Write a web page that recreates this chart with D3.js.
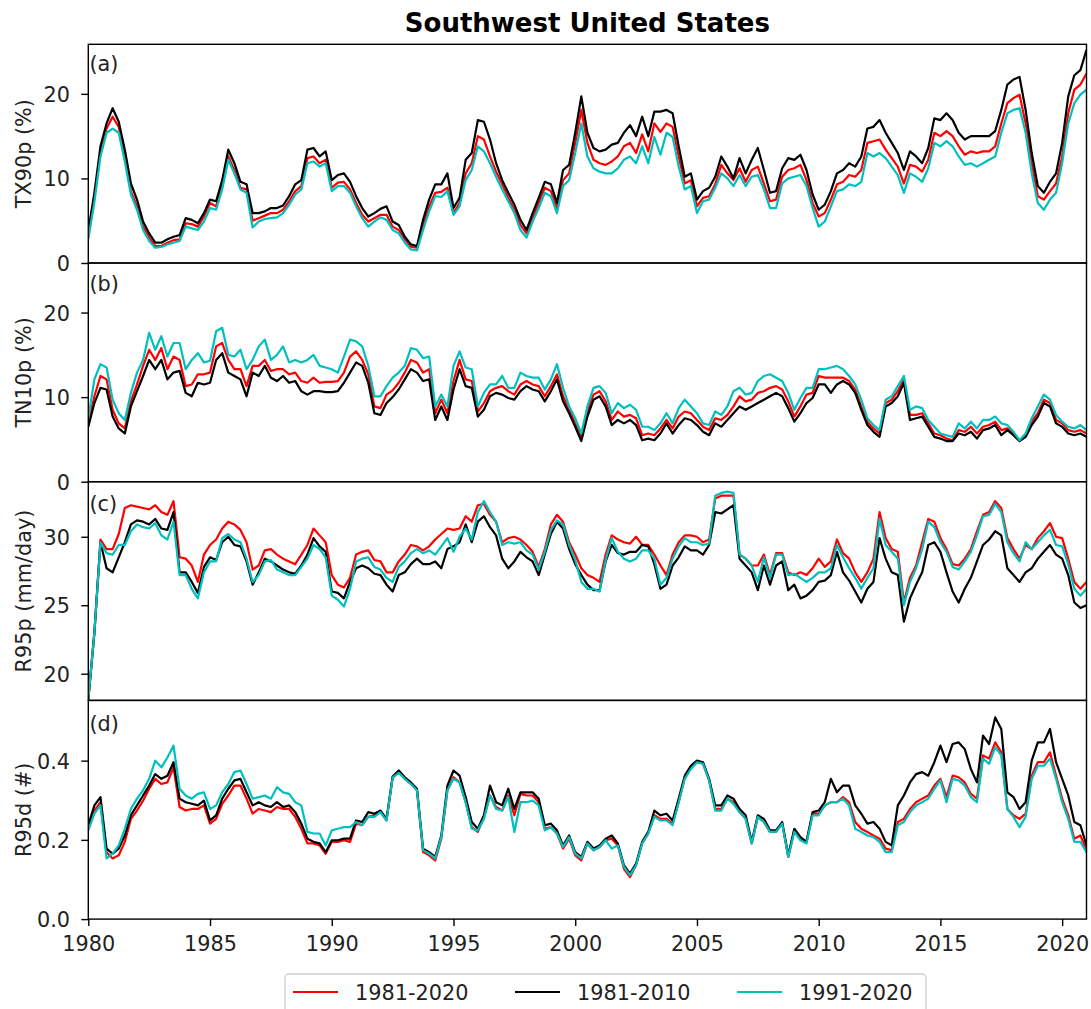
<!DOCTYPE html>
<html>
<head>
<meta charset="utf-8">
<script src="https://cdn.jsdelivr.net/npm/d3@7"></script>
<style>
  html, body { margin: 0; padding: 0; background: #fff; }
  svg { display: block; font-family: "DejaVu Sans", sans-serif; }
</style>
</head>
<body>
<svg id="chart" width="1091" height="1009"></svg>
<script>
// ---------------- DATA (quarterly samples, 1980.00 .. 2021.00) ----------------
const startYear = 1980;
const stepYear = 0.25;
const seriesNames = ["1981-2020", "1981-2010", "1991-2020"];
const seriesColors = ["#ff0000", "#000000", "#00bfbf"];
const xTicks = [1980, 1985, 1990, 1995, 2000, 2005, 2010, 2015, 2020];
const panelLetters = ["(a)", "(b)", "(c)", "(d)"];
const yLabels = ["TX90p (%)", "TN10p (%)", "R95p (mm/day)", "R95d (#)"];
const yTicksA = [0, 10, 20];
const yTicksB = [0, 10, 20];
const yTicksC = [20, 25, 30];
const yTicksD = [0.0, 0.2, 0.4];

// (a) TX90p
const tx90p_1981_2020 = [
3.4,7.8,13.2,15.9, 17.3,16.1,12.6,8.5, 6.7,4.3,3.0,2.0, 2.0,2.4,2.7,2.8,
4.7,4.6,4.3,5.5, 7.1,6.7,9.1,12.6, 11.0,8.9,8.7,5.0, 5.3,5.6,5.9,5.9,
6.3,7.3,8.5,9.1, 12.4,12.6,11.8,12.2, 8.9,9.5,9.6,8.7, 7.1,5.7,4.9,5.3,
5.7,5.7,4.3,3.9, 2.8,1.9,1.8,4.5, 6.7,8.3,8.4,8.9, 5.9,7.1,10.6,11.8,
15.0,14.6,12.6,10.8, 9.3,7.7,6.3,4.5, 3.5,5.3,7.1,8.9, 8.5,6.5,9.8,10.6,
14.2,18.1,14.2,12.2, 11.8,11.6,12.0,12.6, 13.8,14.2,13.0,15.2, 13.2,16.5,15.5,16.5,
16.1,12.6,9.4,9.8, 6.7,7.7,7.9,9.3, 11.6,10.6,9.8,11.2, 9.6,11.0,11.4,9.4,
7.3,7.5,10.2,11.0, 11.2,11.6,9.8,7.1, 5.5,5.9,7.5,9.3, 9.6,10.4,10.2,11.0,
14.2,14.4,14.6,13.4, 12.4,11.4,9.4,11.6, 11.4,10.8,12.2,15.4, 15.0,15.6,15.0,13.8,
12.8,13.2,13.0,13.2, 13.2,13.8,16.5,18.9, 19.5,19.9,16.5,11.8, 7.9,7.5,8.5,9.4,
12.6,17.7,20.5,21.1, 22.4];
const tx90p_1981_2010 = [
3.8,8.3,13.8,16.5, 18.3,16.7,13.4,9.4, 7.5,4.9,3.5,2.4, 2.4,2.8,3.1,3.3,
5.3,5.1,4.7,5.9, 7.5,7.3,9.8,13.4, 11.8,9.6,9.3,5.9, 5.9,6.1,6.5,6.5,
6.8,7.9,9.3,9.8, 13.4,13.6,12.6,13.2, 9.8,10.4,10.6,9.6, 7.9,6.5,5.5,5.9,
6.4,6.7,4.9,4.5, 3.1,2.2,2.0,5.1, 7.5,9.3,9.3,10.6, 6.5,7.7,12.2,13.0,
16.9,16.7,14.6,11.8, 9.8,8.3,6.9,5.1, 3.9,5.9,7.7,9.6, 9.3,7.1,11.0,11.6,
15.4,19.7,15.4,13.6, 13.2,13.4,14.0,14.2, 15.4,16.3,15.0,17.3, 15.0,17.9,17.9,18.1,
17.7,13.8,10.2,10.6, 7.5,8.5,8.9,10.2, 12.6,11.4,10.0,12.4, 10.6,12.2,13.6,11.0,
8.3,8.5,11.2,12.4, 12.2,12.8,11.0,8.1, 6.3,6.9,8.5,10.6, 11.0,11.8,11.4,12.6,
15.9,16.1,16.9,15.4, 14.2,13.0,11.0,13.2, 12.6,11.8,13.6,17.1, 16.9,17.7,16.9,15.4,
14.6,15.0,15.0,15.0, 15.0,15.6,18.1,21.1, 21.7,22.0,18.1,13.0, 9.1,8.3,9.6,10.6,
14.2,19.7,22.2,22.8, 25.2];
const tx90p_1991_2020 = [
2.8,7.2,12.6,15.4, 15.9,15.4,12.0,8.1, 6.3,3.9,2.6,1.8, 1.9,2.2,2.4,2.6,
4.3,4.1,3.9,4.9, 6.5,6.3,8.7,12.2, 10.6,8.7,8.3,4.2, 4.9,5.2,5.3,5.4,
5.9,6.9,8.1,8.7, 11.8,12.0,11.4,11.8, 8.5,9.1,9.1,8.3, 6.7,5.3,4.3,4.9,
5.4,5.1,3.9,3.5, 2.4,1.6,1.5,3.9, 6.1,7.9,7.8,8.5, 5.7,6.7,9.8,11.0,
13.8,13.2,11.8,10.2, 8.7,7.3,5.9,3.9, 3.0,4.9,6.5,8.3, 7.9,5.9,9.1,9.8,
13.0,16.5,12.6,11.2, 10.8,10.6,10.6,11.2, 12.2,12.6,11.8,13.8, 11.8,14.9,12.8,15.4,
14.9,11.4,8.7,9.1, 5.9,7.3,7.5,8.9, 10.6,10.0,9.1,10.4, 9.1,10.2,10.4,8.7,
6.5,6.5,9.4,10.0, 10.2,10.4,9.1,6.5, 4.3,4.9,6.7,8.5, 8.7,9.3,9.1,9.6,
13.0,12.6,13.0,12.4, 11.4,10.4,8.3,10.6, 10.2,9.6,11.2,14.2, 13.8,14.4,13.8,12.6,
11.6,11.8,11.4,11.8, 12.2,12.6,15.4,17.7, 18.1,18.3,15.4,10.6, 7.1,6.3,7.5,8.3,
11.8,16.5,18.9,19.9, 20.5];

// (b) TN10p
const tn10p_1981_2020 = [
6.9,10.1,12.5,12.1, 8.5,6.9,6.3,9.5, 11.5,13.7,15.6,14.4, 15.8,13.3,14.8,14.4,
11.3,11.5,12.7,12.7, 12.9,16.0,16.4,14.4, 13.3,13.3,11.3,13.7, 13.7,14.4,13.1,13.3,
13.3,12.7,12.9,11.9, 11.7,12.3,11.7,11.8, 11.8,11.9,12.9,14.8, 15.4,14.4,12.7,8.9,
8.7,10.3,10.8,11.7, 12.9,14.4,14.1,12.9, 13.3,8.1,9.7,8.1, 11.9,14.4,12.1,11.9,
8.3,9.3,10.7,11.1, 11.3,10.7,10.3,11.5, 11.9,11.5,11.3,10.1, 11.3,12.7,10.1,8.5,
6.9,5.3,8.3,10.3, 10.7,9.5,7.3,8.3, 7.7,7.9,7.5,5.5, 5.7,5.5,6.3,7.3,
6.3,7.7,8.3,8.1, 7.3,6.5,6.1,7.5, 7.3,7.9,8.9,10.1, 9.5,9.7,10.5,10.7,
11.1,11.3,10.9,9.5, 7.7,8.9,10.3,10.5, 12.5,12.3,12.3,12.3, 12.3,11.9,10.9,8.9,
7.1,6.3,5.7,9.3, 9.7,10.7,12.1,7.9, 7.9,8.1,6.9,5.7, 5.5,5.1,4.9,6.1,
5.9,6.5,5.7,6.5, 6.7,7.1,6.1,6.3, 5.7,4.9,5.5,7.1, 8.1,9.7,9.3,7.3,
6.9,6.1,5.9,6.1, 5.7];
const tn10p_1981_2010 = [
6.5,9.3,11.1,10.9, 7.7,6.3,5.7,8.9, 10.7,12.5,14.4,13.3, 14.4,12.1,12.9,13.1,
10.5,10.1,11.7,11.5, 11.7,14.4,15.2,12.9, 12.5,12.1,10.1,12.9, 12.5,13.7,12.3,11.9,
12.5,11.7,11.9,10.7, 10.3,10.7,10.7,10.6, 10.6,10.7,11.7,12.9, 14.1,13.7,11.7,8.1,
7.9,9.3,10.0,10.9, 12.1,13.3,12.9,11.9, 12.1,7.3,8.9,7.3, 10.9,13.3,11.3,11.1,
7.7,8.5,10.1,10.5, 10.3,9.9,9.7,10.7, 11.3,10.9,10.7,9.5, 10.7,12.1,9.5,8.1,
6.5,4.8,7.7,9.7, 10.1,8.9,6.7,7.3, 6.9,7.3,6.7,4.9, 5.1,4.9,5.7,6.9,
5.7,6.7,7.5,7.3, 6.7,5.9,5.5,6.9, 6.5,7.3,8.1,8.9, 8.5,8.9,9.3,9.7,
10.1,10.5,10.1,8.7, 7.1,8.1,9.3,9.9, 11.5,11.5,10.5,11.5, 11.9,11.5,10.5,8.5,
6.7,5.9,5.3,8.9, 9.3,10.1,11.7,7.3, 7.5,7.7,6.5,5.3, 5.1,4.8,4.8,5.7,
5.5,5.9,5.1,6.1, 6.3,6.7,5.5,6.1, 5.5,4.8,5.3,6.7, 7.7,9.3,8.9,6.9,
6.5,5.7,5.5,5.7, 5.3];
const tn10p_1991_2020 = [
7.5,12.1,13.9,13.5, 9.7,8.1,7.3,10.5, 12.9,14.4,17.6,15.6, 17.2,14.8,16.4,16.4,
13.3,14.4,15.2,14.1, 14.3,17.8,18.2,15.0, 14.8,15.6,13.3,14.4, 16.0,16.8,14.4,15.0,
16.0,14.1,14.4,14.1, 14.4,15.0,13.7,13.5, 13.3,12.9,14.8,16.8, 16.6,16.0,13.7,10.1,
10.1,11.3,12.3,12.9, 13.7,15.8,15.6,14.6, 14.8,8.9,10.3,8.9, 13.7,15.4,13.5,13.3,
8.9,10.5,11.5,11.5, 12.5,11.1,11.1,12.9, 12.5,12.3,12.3,10.9, 12.1,13.9,11.1,8.9,
7.5,5.7,8.9,11.1, 11.3,10.5,8.1,9.3, 8.7,9.1,8.5,6.5, 6.5,6.1,6.9,8.1,
6.9,8.7,9.7,8.9, 8.1,6.9,6.7,8.3, 7.9,8.9,10.7,11.1, 10.3,10.5,11.9,12.5,
12.7,12.3,11.9,10.5, 8.5,9.9,11.1,11.1, 13.3,13.3,13.5,13.7, 13.3,12.5,11.5,9.7,
7.5,6.7,6.1,9.7, 10.1,11.3,12.5,8.5, 8.9,8.7,7.3,6.5, 5.7,5.5,5.3,6.9,
6.3,7.1,6.3,7.3, 7.3,7.7,6.9,6.7, 5.9,4.9,5.7,7.5, 8.9,10.3,9.7,7.9,
7.1,6.5,6.3,6.7, 6.1];

// (c) R95p
const r95p_1981_2020 = [
18.1,23.0,29.8,29.1, 29.1,30.2,32.1,32.3, 32.2,32.1,32.0,32.3, 31.8,31.6,32.6,28.5,
28.4,27.9,26.7,28.7, 29.4,29.8,30.6,31.1, 30.9,30.5,29.6,27.6, 27.9,29.0,29.1,28.7,
28.4,28.2,28.0,28.7, 29.4,30.6,30.1,29.6, 27.2,26.5,26.3,27.0, 28.7,28.9,29.0,28.3,
28.2,27.4,27.4,28.2, 28.7,29.4,29.3,29.0, 29.3,29.8,30.2,30.6, 30.5,30.6,31.5,31.1,
32.3,32.4,31.6,31.1, 29.6,29.9,30.0,29.8, 29.4,28.9,27.8,29.1, 30.9,31.6,31.1,29.6,
28.7,27.7,27.2,27.0, 26.7,28.7,30.1,29.8, 29.6,29.5,30.0,29.4, 29.4,28.7,27.9,27.2,
28.7,29.6,30.1,30.1, 30.0,29.6,29.8,32.8, 33.0,33.0,33.0,28.7, 28.4,27.9,27.9,28.7,
27.2,28.8,28.8,27.4, 27.2,27.4,27.2,27.7, 28.4,27.8,28.2,29.8, 28.8,28.4,27.4,26.7,
27.4,28.4,31.8,29.9, 29.1,28.9,25.2,27.0, 27.9,29.6,31.3,31.1, 29.9,29.1,28.0,27.9,
28.4,29.1,30.4,31.6, 31.8,32.6,32.1,29.9, 29.1,28.4,29.4,29.1, 29.9,30.4,31.0,30.0,
29.9,28.4,26.7,26.2, 26.7];
const r95p_1981_2010 = [
18.1,23.0,29.6,27.7, 27.4,28.5,29.6,30.9, 31.2,31.1,30.9,31.3, 30.6,30.5,31.8,27.4,
27.4,26.7,25.9,27.8, 28.5,28.3,29.6,30.0, 29.4,29.3,28.2,26.5, 27.4,28.4,28.2,27.9,
27.6,27.4,27.3,27.9, 28.7,29.9,29.3,28.9, 26.0,25.9,25.5,26.7, 27.7,27.9,27.7,27.3,
27.2,26.5,26.0,27.2, 27.4,28.0,28.4,28.0, 28.0,28.2,27.7,29.1, 29.3,29.6,30.9,29.6,
31.1,31.5,30.7,30.1, 28.4,27.7,28.2,28.9, 28.5,28.2,27.2,28.7, 30.2,31.1,30.6,29.1,
28.0,27.2,26.5,26.1, 26.1,28.2,29.4,28.8, 28.7,28.9,28.9,29.4, 29.3,28.0,26.2,26.5,
27.9,28.5,29.3,29.0, 29.0,28.7,29.4,31.8, 31.7,32.0,32.3,28.4, 27.9,27.4,26.1,27.9,
26.5,27.9,28.2,26.1, 26.5,25.5,25.7,26.1, 26.7,26.8,27.2,28.9, 27.4,26.8,26.0,25.2,
26.2,26.7,29.9,28.4, 27.4,27.2,23.8,25.5, 26.5,27.4,29.4,29.6, 28.9,27.4,26.0,25.2,
26.2,27.0,28.2,29.4, 29.8,30.4,30.1,27.7, 27.2,26.7,27.4,27.7, 28.4,28.9,29.4,28.7,
28.4,27.2,25.2,24.8, 25.0];
const r95p_1991_2020 = [
18.1,23.0,29.6,28.8, 28.7,29.4,29.4,30.4, 30.9,30.7,30.6,31.0, 30.1,29.8,31.1,27.2,
27.2,26.2,25.5,27.4, 28.2,28.2,29.9,30.2, 29.8,29.6,28.4,26.7, 27.2,28.2,28.3,27.6,
27.4,27.2,27.2,27.8, 28.4,29.4,29.1,28.5, 25.7,25.4,24.9,26.2, 28.2,28.4,28.5,27.8,
27.6,27.0,26.7,27.8, 28.2,28.8,29.1,28.8, 29.0,28.7,29.3,29.9, 28.9,30.0,30.6,29.8,
31.8,32.6,31.8,31.1, 29.4,29.6,29.5,29.6, 29.0,28.7,27.6,28.9, 30.5,31.2,30.9,29.4,
28.3,26.7,26.2,26.2, 26.0,28.3,29.9,28.9, 28.4,28.2,28.4,29.0, 29.0,28.4,26.5,27.0,
28.4,29.3,29.9,29.6, 29.6,29.4,29.5,33.0, 33.2,33.3,33.2,28.7, 28.4,27.9,26.7,28.5,
27.0,28.7,28.7,27.2, 27.3,27.0,26.7,27.0, 27.4,27.4,27.7,29.4, 28.5,27.7,27.0,26.2,
27.0,27.7,31.3,29.4, 28.9,28.4,25.0,26.7, 27.7,29.1,31.1,30.7, 29.6,28.9,27.8,27.6,
28.2,28.9,30.1,31.5, 31.6,32.4,31.8,29.6, 28.8,28.2,29.6,29.1, 29.6,30.1,30.5,29.4,
29.3,28.0,26.2,25.7, 26.2];

// (d) R95d
const r95d_1981_2020 = [
0.228,0.274,0.295,0.169, 0.153,0.161,0.195,0.253, 0.274,0.299,0.329,0.354, 0.341,0.345,0.383,0.283,
0.274,0.278,0.278,0.287, 0.241,0.253,0.291,0.312, 0.337,0.337,0.304,0.266, 0.278,0.274,0.270,0.283,
0.278,0.278,0.258,0.228, 0.191,0.191,0.186,0.165, 0.195,0.195,0.199,0.195, 0.241,0.237,0.258,0.262,
0.270,0.249,0.357,0.371, 0.354,0.341,0.325,0.169, 0.161,0.148,0.203,0.325, 0.358,0.345,0.295,0.232,
0.220,0.258,0.312,0.283, 0.274,0.312,0.262,0.316, 0.312,0.312,0.295,0.228, 0.232,0.216,0.178,0.203,
0.161,0.148,0.191,0.174, 0.182,0.199,0.203,0.186, 0.127,0.106,0.136,0.191, 0.216,0.262,0.253,0.253,
0.241,0.295,0.358,0.383, 0.396,0.392,0.350,0.278, 0.278,0.304,0.295,0.270, 0.253,0.191,0.258,0.245,
0.220,0.220,0.241,0.157, 0.224,0.203,0.195,0.266, 0.266,0.287,0.295,0.295, 0.308,0.295,0.245,0.228,
0.220,0.211,0.203,0.178, 0.174,0.245,0.253,0.278, 0.295,0.304,0.312,0.337, 0.354,0.308,0.362,0.358,
0.345,0.316,0.304,0.413, 0.405,0.446,0.421,0.278, 0.262,0.253,0.266,0.362, 0.396,0.396,0.421,0.362,
0.304,0.262,0.203,0.211, 0.174];
const r95d_1981_2010 = [
0.237,0.287,0.308,0.178, 0.165,0.178,0.211,0.262, 0.287,0.312,0.337,0.366, 0.354,0.362,0.396,0.304,
0.295,0.291,0.287,0.299, 0.249,0.262,0.304,0.329, 0.350,0.354,0.320,0.287, 0.295,0.287,0.283,0.295,
0.283,0.287,0.270,0.241, 0.203,0.195,0.191,0.169, 0.199,0.199,0.203,0.203, 0.249,0.245,0.270,0.266,
0.274,0.253,0.360,0.375, 0.358,0.345,0.329,0.178, 0.169,0.157,0.211,0.337, 0.375,0.362,0.308,0.245,
0.228,0.262,0.337,0.295, 0.287,0.329,0.278,0.320, 0.320,0.320,0.304,0.237, 0.241,0.224,0.186,0.211,
0.169,0.157,0.195,0.178, 0.186,0.203,0.211,0.191, 0.136,0.115,0.140,0.195, 0.220,0.274,0.262,0.266,
0.249,0.304,0.362,0.387, 0.400,0.396,0.354,0.287, 0.287,0.312,0.304,0.278, 0.262,0.195,0.262,0.253,
0.224,0.224,0.245,0.161, 0.228,0.207,0.195,0.270, 0.274,0.295,0.354,0.320, 0.337,0.337,0.287,0.266,
0.241,0.245,0.228,0.195, 0.186,0.287,0.312,0.345, 0.366,0.371,0.362,0.396, 0.438,0.396,0.442,0.446,
0.429,0.379,0.345,0.463, 0.442,0.509,0.480,0.320, 0.308,0.278,0.295,0.400, 0.446,0.446,0.480,0.396,
0.354,0.312,0.245,0.237, 0.186];
const r95d_1991_2020 = [
0.224,0.266,0.287,0.153, 0.165,0.186,0.228,0.278, 0.304,0.325,0.354,0.400, 0.383,0.408,0.438,0.329,
0.312,0.304,0.316,0.320, 0.278,0.287,0.320,0.341, 0.371,0.375,0.341,0.304, 0.308,0.312,0.304,0.333,
0.320,0.316,0.295,0.287, 0.220,0.216,0.216,0.186, 0.224,0.228,0.232,0.232, 0.245,0.237,0.258,0.258,
0.270,0.249,0.357,0.369, 0.354,0.341,0.325,0.174, 0.165,0.153,0.207,0.325, 0.354,0.345,0.295,0.228,
0.224,0.253,0.312,0.278, 0.274,0.308,0.220,0.295, 0.295,0.299,0.287,0.224, 0.232,0.216,0.182,0.207,
0.165,0.153,0.191,0.174, 0.182,0.199,0.178,0.186, 0.132,0.111,0.136,0.191, 0.216,0.258,0.249,0.249,
0.237,0.295,0.354,0.379, 0.396,0.392,0.350,0.274, 0.274,0.304,0.291,0.270, 0.253,0.191,0.258,0.245,
0.220,0.220,0.241,0.157, 0.220,0.199,0.191,0.262, 0.262,0.287,0.295,0.295, 0.304,0.287,0.228,0.220,
0.211,0.207,0.195,0.169, 0.169,0.237,0.245,0.270, 0.287,0.295,0.304,0.329, 0.350,0.295,0.354,0.350,
0.337,0.308,0.295,0.405, 0.392,0.434,0.413,0.278, 0.258,0.232,0.258,0.354, 0.387,0.387,0.405,0.354,
0.295,0.253,0.195,0.195, 0.169];

// ---------------- LAYOUT ----------------
const W = 1091, H = 1009;
const left = 88.3, right = 1086.5;
const top0 = 44.3, panelH = 218.7;

const panels = [
  { letter: panelLetters[0], ylabel: yLabels[0], domain: [0, 25.86], ticks: yTicksA, fmt: d3.format("d"),
    series: [tx90p_1981_2020, tx90p_1981_2010, tx90p_1991_2020], labelY: 64.3 },
  { letter: panelLetters[1], ylabel: yLabels[1], domain: [0, 25.86], ticks: yTicksB, fmt: d3.format("d"),
    series: [tn10p_1981_2020, tn10p_1981_2010, tn10p_1991_2020], labelY: 284 },
  { letter: panelLetters[2], ylabel: yLabels[2], domain: [18.05, 34.02], ticks: yTicksC, fmt: d3.format("d"),
    series: [r95p_1981_2020, r95p_1981_2010, r95p_1991_2020], labelY: 504 },
  { letter: panelLetters[3], ylabel: yLabels[3], domain: [0, 0.552], ticks: yTicksD, fmt: d3.format(".1f"),
    series: [r95d_1981_2020, r95d_1981_2010, r95d_1991_2020], labelY: 724.5 }
];

const svg = d3.select("#chart");
svg.append("rect").attr("width", W).attr("height", H).attr("fill", "#fff");

const x = d3.scaleLinear().domain([1980, 2021]).range([left, right]);
const FS = 20.8;

// title
svg.append("text")
  .attr("x", (left + right) / 2).attr("y", 31.7)
  .attr("text-anchor", "middle")
  .attr("font-weight", "bold").attr("font-size", 26)
  .attr("fill", "#000")
  .text("Southwest United States");

const defs = svg.append("defs");

panels.forEach((p, i) => {
  const ptop = top0 + i * panelH;
  const pbot = ptop + panelH;
  const y = d3.scaleLinear().domain(p.domain).range([pbot, ptop]);
  const g = svg.append("g");

  const clipId = "clip" + i;
  defs.append("clipPath").attr("id", clipId)
    .append("rect").attr("x", left).attr("y", ptop).attr("width", right - left).attr("height", panelH);

  const line = d3.line()
    .x((d, k) => x(startYear + k * stepYear))
    .y(d => y(d));

  const lg = g.append("g").attr("clip-path", `url(#${clipId})`);
  p.series.forEach((s, si) => {
    lg.append("path")
      .datum(s)
      .attr("d", line)
      .attr("fill", "none")
      .attr("stroke", seriesColors[si])
      .attr("stroke-width", 2.2)
      .attr("stroke-linejoin", "round")
      .attr("stroke-linecap", "butt");
  });

  // y axis
  const yAxis = d3.axisLeft(y).tickValues(p.ticks).tickFormat(p.fmt).tickSize(7).tickPadding(5);
  const ya = g.append("g").attr("transform", `translate(${left},0)`).call(yAxis);
  ya.select(".domain").remove();
  ya.selectAll(".tick line").attr("stroke", "#000").attr("stroke-width", 1.4);
  ya.selectAll(".tick text").attr("font-size", FS).attr("font-family", "DejaVu Sans").attr("fill", "#222")
    .attr("x", -18.3).attr("dy", "0.36em");

  // x axis only on bottom panel
  if (i === panels.length - 1) {
    const xAxis = d3.axisBottom(x).tickValues(xTicks).tickFormat(d3.format("d")).tickSize(7).tickPadding(6);
    const xa = g.append("g").attr("transform", `translate(0,${pbot})`).call(xAxis);
    xa.select(".domain").remove();
    xa.selectAll(".tick line").attr("stroke", "#000").attr("stroke-width", 1.4);
    xa.selectAll(".tick text").attr("font-size", FS).attr("font-family", "DejaVu Sans").attr("fill", "#222")
      .attr("y", 0).attr("dy", 0).attr("transform", "translate(0,32)");
  }

  // frame
  g.append("rect").attr("x", left).attr("y", ptop).attr("width", right - left).attr("height", panelH)
    .attr("fill", "none").attr("stroke", "#000").attr("stroke-width", 1.4);

  // panel letter
  g.append("text").attr("x", left + 1.2).attr("y", p.labelY + 6.5)
    .attr("font-size", FS).attr("fill", "#222").text(p.letter);

  // y label
  g.append("text")
    .attr("transform", `translate(31,${(ptop + pbot) / 2}) rotate(-90)`)
    .attr("text-anchor", "middle")
    .attr("font-size", FS).attr("fill", "#222")
    .text(p.ylabel);
});

// legend
const leg = svg.append("g");
leg.append("rect").attr("x", 285).attr("y", 974).attr("width", 641).attr("height", 50)
  .attr("rx", 4).attr("fill", "#fff").attr("stroke", "#d0d0d0").attr("stroke-width", 1.3);
const legX = [293, 515, 737];
seriesNames.forEach((name, i) => {
  leg.append("line").attr("x1", legX[i]).attr("x2", legX[i] + 45).attr("y1", 992).attr("y2", 992)
    .attr("stroke", seriesColors[i]).attr("stroke-width", 2.2);
  leg.append("text").attr("x", legX[i] + 62).attr("y", 1000)
    .attr("font-size", FS).attr("fill", "#222").text(name);
});
</script>
</body>
</html>
